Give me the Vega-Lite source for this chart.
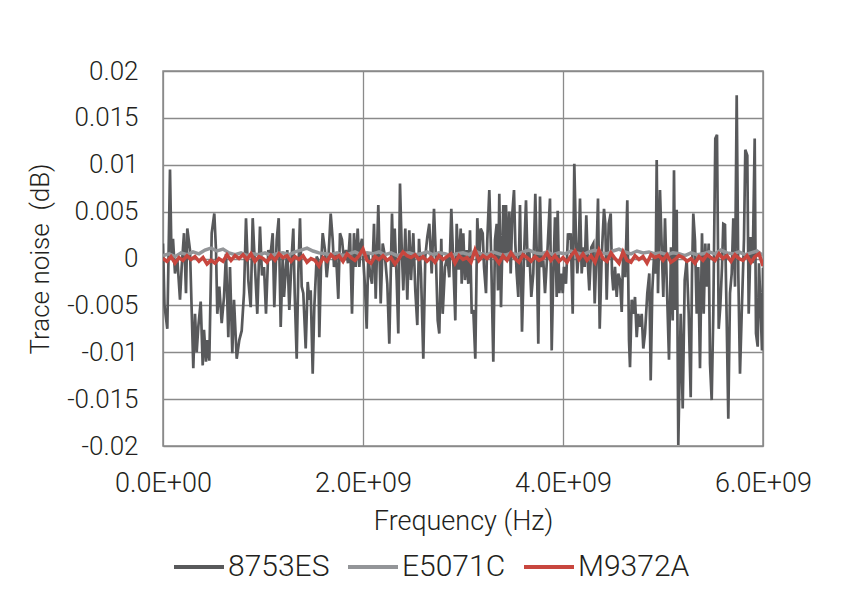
{
  "$schema": "https://vega.github.io/schema/vega-lite/v6.json",
  "width": 600,
  "height": 375,
  "autosize": {"type": "none"},
  "padding": {"left": 163, "top": 71, "right": 96, "bottom": 148},
  "background": "white",
  "datasets": {
    "a": [
      {"f":0,"v":0.0016},{"f":15000000,"v":-0.005},{"f":43000000,"v":-0.0075},{"f":70000000,"v":0.0095},{"f":85000000,"v":0.0002},{"f":100000000,"v":0.0021},{"f":120000000,"v":-0.0016},{"f":143000000,"v":0},{"f":170000000,"v":-0.0044},{"f":187000000,"v":-0.0009},
      {"f":210000000,"v":0.0027},{"f":230000000,"v":-0.0037},{"f":243000000,"v":0.0032},{"f":270000000,"v":0.0009},{"f":303000000,"v":-0.0117},{"f":320000000,"v":-0.0059},{"f":337000000,"v":-0.01},{"f":353000000,"v":-0.0073},{"f":377000000,"v":-0.0046},{"f":397000000,"v":-0.0114},
      {"f":410000000,"v":-0.0076},{"f":430000000,"v":-0.011},{"f":443000000,"v":-0.0087},{"f":463000000,"v":-0.0109},{"f":487000000,"v":0.0027},{"f":513000000,"v":0.0048},{"f":530000000,"v":0.0009},{"f":543000000,"v":-0.0059},{"f":563000000,"v":-0.003},{"f":587000000,"v":-0.0069},
      {"f":610000000,"v":-0.0041},{"f":630000000,"v":0.0005},{"f":653000000,"v":-0.0084},{"f":670000000,"v":-0.0009},{"f":693000000,"v":-0.0101},{"f":710000000,"v":-0.0044},{"f":737000000,"v":-0.0107},{"f":763000000,"v":-0.0087},{"f":787000000,"v":-0.0077},{"f":810000000,"v":-0.0037},
      {"f":830000000,"v":0.0043},{"f":853000000,"v":-0.0023},{"f":877000000,"v":-0.0052},{"f":897000000,"v":0.0043},{"f":920000000,"v":-0.0009},{"f":943000000,"v":-0.0059},{"f":970000000,"v":0.0034},{"f":990000000,"v":-0.0018},{"f":1010000000,"v":-0.0009},{"f":1030000000,"v":-0.0059},
      {"f":1053000000,"v":0.0009},{"f":1070000000,"v":-0.0002},{"f":1097000000,"v":0.0027},{"f":1113000000,"v":-0.0052},{"f":1137000000,"v":0.002},{"f":1157000000,"v":0.0043},{"f":1177000000,"v":-0.0073},{"f":1197000000,"v":0.0002},{"f":1210000000,"v":-0.0041},{"f":1230000000,"v":-0.0009},
      {"f":1243000000,"v":0.0009},{"f":1263000000,"v":-0.0055},{"f":1287000000,"v":0.0002},{"f":1303000000,"v":0.0032},{"f":1317000000,"v":-0.0037},{"f":1337000000,"v":-0.0107},{"f":1353000000,"v":-0.0016},{"f":1370000000,"v":0.0043},{"f":1387000000,"v":-0.003},{"f":1403000000,"v":-0.0037},
      {"f":1427000000,"v":-0.0096},{"f":1447000000,"v":-0.0025},{"f":1463000000,"v":-0.0044},{"f":1477000000,"v":-0.0034},{"f":1497000000,"v":-0.0123},{"f":1513000000,"v":-0.0052},{"f":1537000000,"v":0.0002},{"f":1553000000,"v":-0.0002},{"f":1563000000,"v":-0.0084},{"f":1580000000,"v":-0.0009},
      {"f":1597000000,"v":0.0027},{"f":1620000000,"v":0.0009},{"f":1637000000,"v":-0.002},{"f":1653000000,"v":-0.0002},{"f":1677000000,"v":0.0048},{"f":1697000000,"v":0.002},{"f":1710000000,"v":-0.0009},{"f":1730000000,"v":0.0005},{"f":1753000000,"v":-0.0043},{"f":1770000000,"v":0.0027},
      {"f":1790000000,"v":0.002},{"f":1810000000,"v":-0.0002},{"f":1830000000,"v":0.0009},{"f":1850000000,"v":-0.0005},{"f":1870000000,"v":0.0027},{"f":1890000000,"v":-0.0059},{"f":1910000000,"v":0.0027},{"f":1927000000,"v":-0.0009},{"f":1947000000,"v":0.0032},{"f":1963000000,"v":-0.0009},
      {"f":1980000000,"v":0.0016},{"f":1990000000,"v":0.0021},{"f":2020000000,"v":-0.003},{"f":2037000000,"v":-0.0075},{"f":2053000000,"v":0.0005},{"f":2070000000,"v":-0.0016},{"f":2090000000,"v":-0.0027},{"f":2110000000,"v":0.0037},{"f":2127000000,"v":-0.0043},{"f":2153000000,"v":0.0057},
      {"f":2177000000,"v":-0.0048},{"f":2197000000,"v":0.0016},{"f":2220000000,"v":0.0002},{"f":2243000000,"v":-0.0027},{"f":2263000000,"v":-0.0091},{"f":2290000000,"v":0.0048},{"f":2303000000,"v":-0.0009},{"f":2317000000,"v":0.0032},{"f":2337000000,"v":-0.0023},{"f":2353000000,"v":-0.008},
      {"f":2370000000,"v":0.008},{"f":2387000000,"v":0.0012},{"f":2403000000,"v":-0.0034},{"f":2423000000,"v":0.0032},{"f":2443000000,"v":-0.0044},{"f":2463000000,"v":0.003},{"f":2480000000,"v":-0.0023},{"f":2503000000,"v":0.0027},{"f":2523000000,"v":-0.0034},{"f":2543000000,"v":-0.0071},
      {"f":2560000000,"v":0.0021},{"f":2580000000,"v":-0.0016},{"f":2603000000,"v":-0.0107},{"f":2623000000,"v":0.0002},{"f":2643000000,"v":0.0023},{"f":2663000000,"v":0.0037},{"f":2687000000,"v":-0.0016},{"f":2710000000,"v":0.0053},{"f":2730000000,"v":-0.0002},{"f":2747000000,"v":-0.0066},
      {"f":2763000000,"v":-0.008},{"f":2783000000,"v":0.0021},{"f":2797000000,"v":-0.0059},{"f":2820000000,"v":-0.0009},{"f":2843000000,"v":0.0002},{"f":2863000000,"v":-0.002},{"f":2883000000,"v":0.0053},{"f":2903000000,"v":-0.0005},{"f":2923000000,"v":-0.0066},{"f":2937000000,"v":0.0037},
      {"f":2957000000,"v":-0.0012},{"f":2977000000,"v":0.0032},{"f":2987000000,"v":-0.0027},{"f":3003000000,"v":0.0027},{"f":3020000000,"v":-0.0023},{"f":3037000000,"v":0.0009},{"f":3053000000,"v":-0.0027},{"f":3070000000,"v":0.003},{"f":3087000000,"v":-0.0059},{"f":3103000000,"v":-0.0055},
      {"f":3123000000,"v":-0.0107},{"f":3143000000,"v":0.0043},{"f":3163000000,"v":-0.0002},{"f":3177000000,"v":0.0032},{"f":3197000000,"v":0.0027},{"f":3210000000,"v":-0.0009},{"f":3230000000,"v":-0.0037},{"f":3243000000,"v":0.002},{"f":3263000000,"v":0.0073},{"f":3280000000,"v":0.0009},
      {"f":3303000000,"v":-0.011},{"f":3320000000,"v":0.002},{"f":3337000000,"v":0.0037},{"f":3350000000,"v":-0.0034},{"f":3363000000,"v":0.0069},{"f":3380000000,"v":-0.0052},{"f":3403000000,"v":0.0057},{"f":3417000000,"v":0.0005},{"f":3430000000,"v":0.0057},{"f":3447000000,"v":-0.0002},
      {"f":3463000000,"v":0.005},{"f":3477000000,"v":-0.0016},{"f":3493000000,"v":0.0048},{"f":3510000000,"v":0.0073},{"f":3523000000,"v":0.0016},{"f":3537000000,"v":-0.0016},{"f":3553000000,"v":-0.0041},{"f":3570000000,"v":0.0057},{"f":3590000000,"v":-0.0078},{"f":3610000000,"v":0.0002},
      {"f":3630000000,"v":0.0062},{"f":3647000000,"v":-0.0009},{"f":3663000000,"v":0.0009},{"f":3683000000,"v":-0.0041},{"f":3703000000,"v":-0.0016},{"f":3723000000,"v":0.0069},{"f":3737000000,"v":0.0009},{"f":3753000000,"v":-0.0091},{"f":3770000000,"v":0.0066},{"f":3787000000,"v":-0.0009},
      {"f":3803000000,"v":-0.0002},{"f":3820000000,"v":-0.0037},{"f":3843000000,"v":0.0005},{"f":3870000000,"v":0.0064},{"f":3887000000,"v":-0.0098},{"f":3903000000,"v":-0.0016},{"f":3920000000,"v":0.0044},{"f":3937000000,"v":-0.0041},{"f":3947000000,"v":0.0051},{"f":3963000000,"v":-0.0037},
      {"f":3980000000,"v":-0.0016},{"f":3997000000,"v":-0.0037},{"f":4010000000,"v":-0.0009},{"f":4030000000,"v":-0.0027},{"f":4050000000,"v":0.0027},{"f":4063000000,"v":0.002},{"f":4077000000,"v":0.0027},{"f":4097000000,"v":-0.0059},{"f":4113000000,"v":0.0101},{"f":4130000000,"v":0.002},
      {"f":4143000000,"v":-0.0016},{"f":4157000000,"v":0.0009},{"f":4170000000,"v":0.0064},{"f":4187000000,"v":-0.0016},{"f":4203000000,"v":0.0012},{"f":4217000000,"v":-0.0009},{"f":4233000000,"v":0.0046},{"f":4250000000,"v":-0.0009},{"f":4263000000,"v":-0.0034},{"f":4283000000,"v":0.0012},
      {"f":4303000000,"v":0.0016},{"f":4317000000,"v":-0.0048},{"f":4337000000,"v":0.0012},{"f":4350000000,"v":0.0064},{"f":4367000000,"v":-0.0075},{"f":4387000000,"v":0.0002},{"f":4410000000,"v":0.0053},{"f":4423000000,"v":0.0037},{"f":4437000000,"v":-0.0044},{"f":4457000000,"v":0.0037},
      {"f":4477000000,"v":0.0048},{"f":4490000000,"v":-0.0016},{"f":4503000000,"v":-0.0034},{"f":4520000000,"v":-0.0009},{"f":4537000000,"v":-0.0041},{"f":4553000000,"v":-0.0016},{"f":4570000000,"v":-0.0023},{"f":4587000000,"v":-0.0057},{"f":4603000000,"v":0.0009},{"f":4623000000,"v":-0.002},
      {"f":4643000000,"v":0.0062},{"f":4660000000,"v":-0.0087},{"f":4670000000,"v":-0.0116},{"f":4687000000,"v":-0.0044},{"f":4703000000,"v":-0.0059},{"f":4720000000,"v":-0.0041},{"f":4737000000,"v":-0.0084},{"f":4753000000,"v":-0.0059},{"f":4770000000,"v":-0.0073},{"f":4787000000,"v":-0.0059},
      {"f":4803000000,"v":-0.0096},{"f":4820000000,"v":-0.008},{"f":4843000000,"v":-0.0037},{"f":4863000000,"v":-0.0016},{"f":4877000000,"v":-0.013},{"f":4893000000,"v":-0.0034},{"f":4910000000,"v":0.0002},{"f":4927000000,"v":-0.0016},{"f":4937000000,"v":0.0105},{"f":4950000000,"v":-0.0037},
      {"f":4970000000,"v":0.0073},{"f":4990000000,"v":0.0002},{"f":5003000000,"v":-0.0041},{"f":5020000000,"v":0.0043},{"f":5037000000,"v":-0.0023},{"f":5060000000,"v":-0.0108},{"f":5080000000,"v":0.0012},{"f":5097000000,"v":-0.0066},{"f":5110000000,"v":0.0094},{"f":5123000000,"v":-0.0055},
      {"f":5137000000,"v":0.0052},{"f":5153000000,"v":-0.0199},{"f":5177000000,"v":-0.0059},{"f":5197000000,"v":-0.016},{"f":5217000000,"v":-0.0023},{"f":5237000000,"v":-0.0002},{"f":5257000000,"v":-0.0059},{"f":5277000000,"v":-0.0148},{"f":5290000000,"v":-0.0016},{"f":5303000000,"v":0.0048},
      {"f":5320000000,"v":0.0019},{"f":5337000000,"v":-0.0059},{"f":5353000000,"v":-0.0009},{"f":5370000000,"v":-0.0117},{"f":5390000000,"v":0.0027},{"f":5407000000,"v":-0.0059},{"f":5423000000,"v":0.0016},{"f":5437000000,"v":-0.003},{"f":5457000000,"v":0.0016},{"f":5470000000,"v":-0.0112},
      {"f":5487000000,"v":-0.0151},{"f":5503000000,"v":-0.0059},{"f":5523000000,"v":0.0128},{"f":5540000000,"v":0.0132},{"f":5557000000,"v":-0.0075},{"f":5573000000,"v":-0.0051},{"f":5590000000,"v":-0.0009},{"f":5603000000,"v":0.0037},{"f":5620000000,"v":0.0036},{"f":5637000000,"v":-0.0066},
      {"f":5653000000,"v":-0.0171},{"f":5670000000,"v":-0.0037},{"f":5687000000,"v":-0.0016},{"f":5703000000,"v":0.0043},{"f":5720000000,"v":-0.003},{"f":5737000000,"v":0.0174},{"f":5753000000,"v":-0.0016},{"f":5770000000,"v":-0.0123},{"f":5787000000,"v":-0.0059},{"f":5810000000,"v":0.0021},
      {"f":5823000000,"v":0.0116},{"f":5843000000,"v":0.011},{"f":5857000000,"v":-0.0059},{"f":5877000000,"v":0.0023},{"f":5897000000,"v":-0.0005},{"f":5917000000,"v":0.0128},{"f":5930000000,"v":-0.008},{"f":5947000000,"v":-0.0094},{"f":5960000000,"v":-0.0005},{"f":5990000000,"v":-0.0098},{"f":6000000000,"v":-0.001}
    ],
    "b": [
      {"f":0,"v":0.0003},{"f":60000000,"v":0.0005},{"f":120000000,"v":0.0002},{"f":180000000,"v":0.0006},{"f":240000000,"v":0.0004},{"f":300000000,"v":0.0007},{"f":360000000,"v":0.0005},{"f":420000000,"v":0.0009},{"f":480000000,"v":0.0011},{"f":540000000,"v":0.0008},
      {"f":600000000,"v":0.001},{"f":660000000,"v":0.0006},{"f":720000000,"v":0.0004},{"f":780000000,"v":0.0006},{"f":840000000,"v":0.0003},{"f":900000000,"v":0.0005},{"f":960000000,"v":0.0004},{"f":1020000000,"v":0.0006},{"f":1080000000,"v":0.0003},{"f":1140000000,"v":0.0005},
      {"f":1200000000,"v":0.0006},{"f":1260000000,"v":0.0004},{"f":1320000000,"v":0.0007},{"f":1380000000,"v":0.0009},{"f":1440000000,"v":0.0011},{"f":1500000000,"v":0.0008},{"f":1560000000,"v":0.0006},{"f":1620000000,"v":0.0005},{"f":1680000000,"v":0.0004},{"f":1740000000,"v":0.0006},
      {"f":1800000000,"v":0.0003},{"f":1860000000,"v":0.0005},{"f":1920000000,"v":0.0007},{"f":1980000000,"v":0.0004},{"f":2040000000,"v":0.0006},{"f":2100000000,"v":0.0005},{"f":2160000000,"v":0.0007},{"f":2220000000,"v":0.0004},{"f":2280000000,"v":0.0006},{"f":2340000000,"v":0.0003},
      {"f":2400000000,"v":0.0005},{"f":2460000000,"v":0.0006},{"f":2520000000,"v":0.0004},{"f":2580000000,"v":0.0005},{"f":2640000000,"v":0.0007},{"f":2700000000,"v":0.0004},{"f":2760000000,"v":0.0006},{"f":2820000000,"v":0.0005},{"f":2880000000,"v":0.0003},{"f":2940000000,"v":0.0005},
      {"f":3000000000,"v":0.0006},{"f":3060000000,"v":0.0004},{"f":3120000000,"v":0.0008},{"f":3180000000,"v":0.0005},{"f":3240000000,"v":0.0004},{"f":3300000000,"v":0.0007},{"f":3360000000,"v":0.0005},{"f":3420000000,"v":0.0003},{"f":3480000000,"v":0.0006},{"f":3540000000,"v":0.0004},
      {"f":3600000000,"v":0.0007},{"f":3660000000,"v":0.0009},{"f":3720000000,"v":0.0006},{"f":3780000000,"v":0.0005},{"f":3840000000,"v":0.0007},{"f":3900000000,"v":0.0004},{"f":3960000000,"v":0.0006},{"f":4020000000,"v":0.0005},{"f":4080000000,"v":0.0008},{"f":4140000000,"v":0.0006},
      {"f":4200000000,"v":0.0004},{"f":4260000000,"v":0.0007},{"f":4320000000,"v":0.0009},{"f":4380000000,"v":0.0006},{"f":4440000000,"v":0.0005},{"f":4500000000,"v":0.0008},{"f":4560000000,"v":0.001},{"f":4620000000,"v":0.0007},{"f":4680000000,"v":0.0005},{"f":4740000000,"v":0.0008},
      {"f":4800000000,"v":0.0006},{"f":4860000000,"v":0.0007},{"f":4920000000,"v":0.0005},{"f":4980000000,"v":0.0006},{"f":5040000000,"v":0.0004},{"f":5100000000,"v":0.0006},{"f":5160000000,"v":0.0005},{"f":5220000000,"v":0.0003},{"f":5280000000,"v":0.0006},{"f":5340000000,"v":0.0004},
      {"f":5400000000,"v":0.0005},{"f":5460000000,"v":0.0007},{"f":5520000000,"v":0.0005},{"f":5580000000,"v":0.0009},{"f":5640000000,"v":0.0006},{"f":5700000000,"v":0.0005},{"f":5760000000,"v":0.0007},{"f":5820000000,"v":0.0004},{"f":5880000000,"v":0.0006},{"f":5940000000,"v":0.0008},{"f":6000000000,"v":0.0003}
    ],
    "c": [
      {"f":0,"v":0},{"f":40000000,"v":-0.0003},{"f":80000000,"v":0.0002},{"f":120000000,"v":-0.0005},{"f":160000000,"v":0.0001},{"f":200000000,"v":-0.0002},{"f":240000000,"v":0.0003},{"f":280000000,"v":-0.0001},{"f":320000000,"v":0.0002},{"f":360000000,"v":-0.0003},
      {"f":400000000,"v":0.0001},{"f":440000000,"v":-0.0006},{"f":480000000,"v":-0.0002},{"f":520000000,"v":-0.0005},{"f":560000000,"v":0},{"f":600000000,"v":-0.0003},{"f":640000000,"v":0.0004},{"f":680000000,"v":-0.0002},{"f":720000000,"v":0.0003},{"f":760000000,"v":0},
      {"f":800000000,"v":0.0004},{"f":840000000,"v":-0.0001},{"f":880000000,"v":0.0005},{"f":920000000,"v":-0.0003},{"f":960000000,"v":0.0002},{"f":1000000000,"v":0},{"f":1040000000,"v":-0.0004},{"f":1080000000,"v":0.0003},{"f":1120000000,"v":-0.0002},{"f":1160000000,"v":0.0005},
      {"f":1200000000,"v":0.0001},{"f":1240000000,"v":0.0003},{"f":1280000000,"v":-0.0003},{"f":1320000000,"v":0.0002},{"f":1360000000,"v":-0.0001},{"f":1400000000,"v":0.0003},{"f":1440000000,"v":-0.0004},{"f":1480000000,"v":0},{"f":1520000000,"v":-0.0002},{"f":1560000000,"v":-0.0008},
      {"f":1600000000,"v":0.0001},{"f":1640000000,"v":-0.0003},{"f":1680000000,"v":0.0004},{"f":1720000000,"v":0},{"f":1760000000,"v":0.0003},{"f":1800000000,"v":-0.0003},{"f":1840000000,"v":0.0005},{"f":1880000000,"v":0.0001},{"f":1920000000,"v":-0.0002},{"f":1960000000,"v":0.0003},
      {"f":2000000000,"v":0.001},{"f":2040000000,"v":-0.0002},{"f":2080000000,"v":-0.0005},{"f":2120000000,"v":0.0002},{"f":2160000000,"v":-0.0001},{"f":2200000000,"v":0.0003},{"f":2240000000,"v":-0.0002},{"f":2280000000,"v":0.0001},{"f":2320000000,"v":-0.0006},{"f":2360000000,"v":0},
      {"f":2400000000,"v":0.0007},{"f":2440000000,"v":0.0003},{"f":2480000000,"v":0.0001},{"f":2520000000,"v":0.0004},{"f":2560000000,"v":-0.0001},{"f":2600000000,"v":0.0002},{"f":2640000000,"v":-0.0003},{"f":2680000000,"v":0.0001},{"f":2720000000,"v":-0.0004},{"f":2760000000,"v":0.0003},
      {"f":2800000000,"v":-0.0001},{"f":2840000000,"v":0.0002},{"f":2880000000,"v":0.0005},{"f":2920000000,"v":-0.0005},{"f":2960000000,"v":0.0003},{"f":3000000000,"v":-0.0001},{"f":3040000000,"v":0.0001},{"f":3080000000,"v":-0.0004},{"f":3120000000,"v":0.0009},{"f":3160000000,"v":-0.0002},
      {"f":3200000000,"v":0.0003},{"f":3240000000,"v":0},{"f":3280000000,"v":0.0004},{"f":3320000000,"v":0.0001},{"f":3360000000,"v":-0.0005},{"f":3400000000,"v":0.0003},{"f":3440000000,"v":-0.0002},{"f":3480000000,"v":0.0006},{"f":3520000000,"v":0},{"f":3560000000,"v":-0.0004},
      {"f":3600000000,"v":0.0004},{"f":3640000000,"v":0.0001},{"f":3680000000,"v":-0.0003},{"f":3720000000,"v":0.0002},{"f":3760000000,"v":-0.0002},{"f":3800000000,"v":0},{"f":3840000000,"v":0.0006},{"f":3880000000,"v":-0.0002},{"f":3920000000,"v":0.0003},{"f":3960000000,"v":-0.0003},
      {"f":4000000000,"v":0.0001},{"f":4040000000,"v":-0.0004},{"f":4080000000,"v":0.0003},{"f":4120000000,"v":0.0008},{"f":4160000000,"v":-0.0001},{"f":4200000000,"v":0.0005},{"f":4240000000,"v":-0.0002},{"f":4280000000,"v":0.0003},{"f":4320000000,"v":-0.0004},{"f":4360000000,"v":0.0009},
      {"f":4400000000,"v":0},{"f":4440000000,"v":-0.0003},{"f":4480000000,"v":0.0006},{"f":4520000000,"v":0},{"f":4560000000,"v":-0.0005},{"f":4600000000,"v":0.0007},{"f":4640000000,"v":-0.0002},{"f":4680000000,"v":-0.0004},{"f":4720000000,"v":0.0003},{"f":4760000000,"v":-0.0001},
      {"f":4800000000,"v":0.0002},{"f":4840000000,"v":-0.0005},{"f":4880000000,"v":0.0004},{"f":4920000000,"v":0.0001},{"f":4960000000,"v":0.0003},{"f":5000000000,"v":-0.0002},{"f":5040000000,"v":0.0004},{"f":5080000000,"v":-0.0004},{"f":5120000000,"v":-0.0001},{"f":5160000000,"v":0.0003},
      {"f":5200000000,"v":0.0001},{"f":5240000000,"v":-0.0003},{"f":5280000000,"v":0},{"f":5320000000,"v":-0.0005},{"f":5360000000,"v":0.0002},{"f":5400000000,"v":-0.0002},{"f":5440000000,"v":0.0004},{"f":5480000000,"v":0.0001},{"f":5520000000,"v":-0.0002},{"f":5560000000,"v":0.0005},
      {"f":5600000000,"v":0},{"f":5640000000,"v":0.0003},{"f":5680000000,"v":-0.0003},{"f":5720000000,"v":0.0004},{"f":5760000000,"v":0},{"f":5800000000,"v":-0.0002},{"f":5840000000,"v":0.0003},{"f":5880000000,"v":-0.0004},{"f":5920000000,"v":0.0002},{"f":5960000000,"v":0.0005},{"f":6000000000,"v":-0.0008}
    ]
  },
  "encoding": {
    "x": {
      "field": "f", "type": "quantitative",
      "scale": {"domain": [0, 6000000000], "nice": false, "zero": false},
      "axis": {
        "title": "Frequency (Hz)",
        "values": [0, 2000000000, 4000000000, 6000000000],
        "labelExpr": "datum.value == 0 ? '0.0E+00' : format(datum.value / 1e9, '.1f') + 'E+09'",
        "labelAlign": "center",
        "labelFlush": false,
        "labelFontSize": 27,
        "labelPadding": 24,
        "titlePadding": 12,
        "titleFontSize": 27
      }
    },
    "y": {
      "field": "v", "type": "quantitative",
      "scale": {"domain": [-0.02, 0.02], "nice": false},
      "axis": {
        "title": "Trace noise \u00a0(dB)",
        "values": [-0.02, -0.015, -0.01, -0.005, 0, 0.005, 0.01, 0.015, 0.02],
        "labelExpr": "(datum.value < 0 ? '-' : '') + format(abs(datum.value), '~g')",
        "labelFontSize": 26,
        "labelPadding": 25,
        "titlePadding": 13,
        "titleFontSize": 26
      }
    }
  },
  "layer": [
    {
      "data": {"name": "a"},
      "mark": {"type": "line", "strokeWidth": 2.7, "clip": true},
      "encoding": {"color": {"datum": "8753ES", "type": "nominal"}}
    },
    {
      "data": {"name": "b"},
      "mark": {"type": "line", "strokeWidth": 3.5, "clip": true},
      "encoding": {"color": {"datum": "E5071C", "type": "nominal"}}
    },
    {
      "data": {"name": "c"},
      "mark": {"type": "line", "strokeWidth": 3.5, "clip": true},
      "encoding": {
        "color": {
          "datum": "M9372A", "type": "nominal",
          "scale": {"domain": ["8753ES", "E5071C", "M9372A"], "range": ["#58595b", "#939598", "#c8463e"]},
          "legend": {
            "title": null, "orient": "none", "direction": "horizontal",
            "legendX": 9, "legendY": 469,
            "symbolType": "stroke", "symbolSize": 2500, "symbolStrokeWidth": 4,
            "labelFontSize": 30, "labelOffset": 2, "columnPadding": 10
          }
        }
      }
    }
  ],
  "config": {
    "font": "Roboto",
    "view": {"stroke": "#8a8a8a", "strokeWidth": 1.5},
    "axis": {
      "grid": true, "gridColor": "#8a8a8a", "gridWidth": 1.3, "gridOpacity": 1,
      "domain": false, "ticks": false,
      "labelFont": "Roboto", "labelFontWeight": 300, "labelColor": "#231f20",
      "titleFont": "Roboto", "titleFontWeight": 300, "titleColor": "#231f20"
    },
    "legend": {"labelFont": "Roboto", "labelFontWeight": 300, "labelColor": "#231f20"}
  }
}
